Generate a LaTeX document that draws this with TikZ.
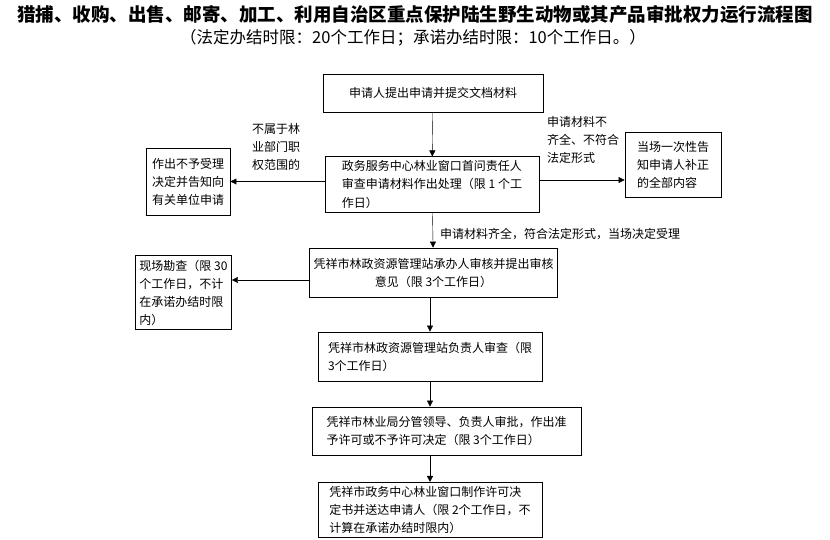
\documentclass[tikz,border=0pt]{standalone}
\usepackage{fontspec}
\setmainfont{Noto Sans CJK SC}
\usetikzlibrary{arrows.meta}
\tikzset{
    flowbox/.style={draw, thick, inner sep=4pt, align=left, font=\fontsize{12}{18}\selectfont},
    flowarrow/.style={draw, -{Triangle[length=6pt,width=6pt]}},
    note/.style={align=left, font=\fontsize{12}{18}\selectfont, inner sep=0pt}
}
\begin{document}
\begin{tikzpicture}[x=1pt,y=-1pt]
    \useasboundingbox (0,0) rectangle (830,539);
    % title
    \node[font=\fontsize{18.5}{20}\selectfont\bfseries] (title) at (415,14) {猎捕、收购、出售、邮寄、加工、利用自治区重点保护陆生野生动物或其产品审批权力运行流程图};
    \node[font=\fontsize{16.5}{18}\selectfont] (subtitle) at (413,38) {（法定办结时限：20个工作日；承诺办结时限：10个工作日。）};
    % main column
    \node[flowbox, minimum width=220pt, minimum height=38pt, align=center] (apply) at (433,93) {申请人提出申请并提交文档材料};
    \node[flowbox, minimum width=214pt, minimum height=55pt] (check) at (432,184.5) {政务服务中心林业窗口首问责任人\\审查申请材料作出处理（限 1 个工\\作日）};
    \node[flowbox, minimum width=243pt, minimum height=49pt, align=center] (review) at (433.5,272.5) {凭祥市林政资源管理站承办人审核并提出审核\\意见（限 3个工作日）};
    \node[flowbox, minimum width=224pt, minimum height=49pt] (head) at (430,356.5) {凭祥市林政资源管理站负责人审查（限\\3个工作日）};
    \node[flowbox, minimum width=269pt, minimum height=48pt] (approve) at (446.5,431) {凭祥市林业局分管领导、负责人审批，作出准\\予许可或不予许可决定（限 3个工作日）};
    \node[flowbox, minimum width=224pt, minimum height=52pt] (issue) at (430,510) {凭祥市政务中心林业窗口制作许可决\\定书并送达申请人（限 2个工作日，不\\计算在承诺办结时限内）};
    % side boxes
    \node[flowbox, minimum width=84pt, minimum height=67pt] (reject) at (188,181.5) {作出不予受理\\决定并告知向\\有关单位申请};
    \node[flowbox, minimum width=96pt, minimum height=65pt] (inform) at (673,164.5) {当场一次性告\\知申请人补正\\的全部内容};
    \node[flowbox, minimum width=93pt, minimum height=65pt] (survey) at (183.5,292.5) {现场勘查（限 30\\个工作日，不计\\在承诺办结时限\\内）};
    % labels
    \node[note] (notours) at (276,147) {不属于林\\业部门职\\权范围的};
    \node[note] (incomplete) at (583,140) {申请材料不\\齐全、不符合\\法定形式};
    \node[note, anchor=west] (accepted) at (440,234) {申请材料齐全，符合法定形式，当场决定受理};
    % connectors
    \draw[flowarrow] (apply) -- (check);
    \draw[flowarrow] (check) -- (review);
    \draw[flowarrow] (review.south -| head.north) -- (head);
    \draw[flowarrow] (head) -- (head.south |- approve.north);
    \draw[flowarrow] (head.south |- approve.south) -- (issue);
    \draw[flowarrow] (check.west |- reject) -- (reject);
    \draw[flowarrow] (check.east |- 0,180) -- (inform.west |- 0,180);
    \draw[flowarrow] (review.west |- 0,280) -- (survey.east |- 0,280);
\end{tikzpicture}
\end{document}
